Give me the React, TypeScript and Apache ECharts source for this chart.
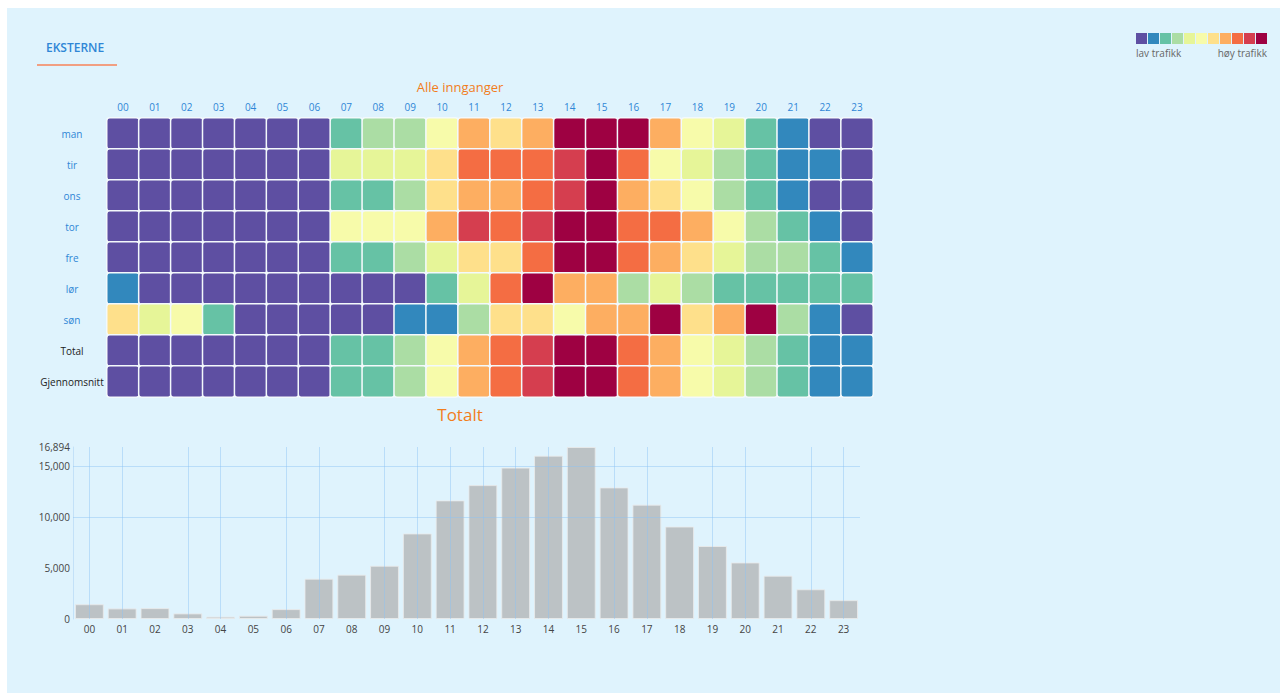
import React, { useEffect, useRef } from "react";
import * as echarts from "echarts";

const hours = ["00","01","02","03","04","05","06","07","08","09","10","11","12","13","14","15","16","17","18","19","20","21","22","23"];
const rowLabels = ["man","tir","ons","tor","fre","lør","søn","Total","Gjennomsnitt"];

// traffic level (0 = lav trafikk ... 10 = høy trafikk) per hour
const man =   [0,0,0,0,0,0,0,2,3,3,5,7,6,7,10,10,10,7,5,4,2,1,0,0];
const tir =   [0,0,0,0,0,0,0,4,4,4,6,8,8,8,9,10,8,5,4,3,2,1,1,0];
const ons =   [0,0,0,0,0,0,0,2,2,3,6,7,7,8,9,10,7,6,5,3,2,1,0,0];
const tor =   [0,0,0,0,0,0,0,5,5,5,7,9,8,9,10,10,8,8,7,5,3,2,1,0];
const fre =   [0,0,0,0,0,0,0,2,2,3,4,6,6,8,10,10,8,7,6,4,3,3,2,1];
const lor =   [1,0,0,0,0,0,0,0,0,0,2,4,8,10,7,7,3,4,3,2,2,2,2,2];
const son =   [6,4,5,2,0,0,0,0,0,1,1,3,6,6,5,7,7,10,6,7,10,3,1,0];
const total = [0,0,0,0,0,0,0,2,2,3,5,7,8,9,10,10,8,7,5,4,3,2,1,1];
const snitt = [0,0,0,0,0,0,0,2,2,3,5,7,8,9,10,10,8,7,5,4,3,2,1,1];
const rows = [man, tir, ons, tor, fre, lor, son, total, snitt];

const levelColors = ["#5e4fa2","#3288bd","#66c2a5","#abdda4","#e6f598","#f7fbaa","#fee08b","#fdae61","#f46d43","#d53e4f","#9e0142"];

const totals = [1450,1040,1070,550,230,320,970,3960,4350,5230,8400,11650,13150,14870,16040,16894,12920,11230,9080,7170,5550,4250,2920,1850];
const yTicks = [0, 5000, 10000, 15000];
const gridYValues = [10000, 15000];
const gridHours = ["00","01","03","04","06","07","09","10","11","12","13","14","16","17","19","20","22","23"];

const FONT = "'Open Sans', 'Noto Sans', sans-serif";
const BLUE = "#2f86d6";
const ORANGE = "#f27d1c";

export default function App() {
  const ref = useRef<HTMLDivElement>(null);
  useEffect(() => {
    if (!ref.current) return;
    const chart = echarts.init(ref.current, null, { renderer: "svg" });
    const heatData: number[][] = [];
    rows.forEach((r, yi) => r.forEach((v, xi) => heatData.push([xi, yi, v])));
    const maxTotal = Math.max(...totals);

    const legendGraphics: any[] = levelColors.map((c, i) => ({
      type: "rect",
      left: 1129 + i * 12,
      top: 25,
      shape: { width: 11, height: 11 },
      style: { fill: c },
    }));

    chart.setOption({
      animation: false,
      textStyle: { fontFamily: FONT },
      title: [
        { text: "Alle innganger", left: 448, top: 67, textAlign: "center", textStyle: { color: ORANGE, fontSize: 13, fontWeight: "normal", fontFamily: FONT } },
        { text: "Totalt", left: 448, top: 393, textAlign: "center", textStyle: { color: ORANGE, fontSize: 17, fontWeight: "normal", fontFamily: FONT } },
      ],
      graphic: [
        { type: "text", left: 39, top: 33, style: { text: "EKSTERNE", fill: BLUE, fontSize: 12, fontWeight: 600, fontFamily: FONT } },
        { type: "rect", left: 30, top: 56, shape: { width: 80, height: 2 }, style: { fill: "#f19f82" } },
        ...legendGraphics,
        { type: "text", left: 1129, top: 40, style: { text: "lav trafikk", fill: "#666", fontSize: 10, fontFamily: FONT } },
        { type: "text", right: 13, top: 40, style: { text: "høy trafikk", fill: "#666", fontSize: 10, fontFamily: FONT, align: "right" } },
      ],
      grid: [
        { left: 100, top: 110, width: 766, height: 279 },
        { left: 66, top: 439, width: 787, height: 172 },
      ],
      xAxis: [
        {
          gridIndex: 0, type: "category", data: hours, position: "top",
          axisLine: { show: false }, axisTick: { show: false }, splitLine: { show: false },
          axisLabel: { color: BLUE, fontSize: 10, fontWeight: 500, margin: 6, fontFamily: FONT },
        },
        {
          gridIndex: 1, type: "category", data: hours,
          axisLine: { show: false }, axisTick: { show: false }, splitLine: { show: false },
          axisLabel: { color: "#444", fontSize: 10, margin: 5, fontFamily: FONT },
        },
      ],
      yAxis: [
        {
          gridIndex: 0, type: "category", data: rowLabels, inverse: true,
          axisLine: { show: false }, axisTick: { show: false }, splitLine: { show: false },
          axisLabel: {
            fontSize: 10, margin: 35, align: "center", fontFamily: FONT,
            formatter: (v: string, i: number) => (i >= 7 ? `{k|${v}}` : `{b|${v}}`),
            rich: { b: { color: BLUE, fontSize: 10, fontWeight: 500, fontFamily: FONT }, k: { color: "#222", fontSize: 10, fontFamily: FONT } },
          },
        },
        {
          gridIndex: 1, type: "value", min: 0, max: maxTotal, interval: 5000,
          axisLine: { show: true, lineStyle: { color: "#c3e1f8" } }, axisTick: { show: false },
          splitLine: { show: false },
          axisLabel: {
            color: "#444", fontSize: 10, margin: 3, fontFamily: FONT,
            formatter: (v: number) => (yTicks.includes(v) || v === maxTotal ? v.toLocaleString("en-US") : ""),
          },
        },
      ],
      visualMap: {
        type: "piecewise", show: false, seriesIndex: 0, dimension: 2,
        pieces: levelColors.map((c, i) => ({ value: i, color: c })),
      },
      series: [
        {
          type: "heatmap", xAxisIndex: 0, yAxisIndex: 0, data: heatData,
          itemStyle: { borderColor: "#f3f9fc", borderWidth: 1.5, borderRadius: 3 },
          emphasis: { disabled: true },
        },
        {
          type: "bar", xAxisIndex: 1, yAxisIndex: 1, data: totals, barCategoryGap: "12%",
          itemStyle: { color: "rgba(172,172,172,0.7)", borderColor: "rgba(235,235,235,0.8)", borderWidth: 1 },
          markLine: {
            silent: true, symbol: "none", label: { show: false },
            lineStyle: { color: "rgba(140,195,245,0.45)", width: 1, type: "solid" },
            data: [
              ...gridHours.map((h) => ({ xAxis: h })),
              ...gridYValues.map((v) => ({ yAxis: v })),
            ],
          },
        },
      ],
    });
    return () => chart.dispose();
  }, []);
  return (
    <div style={{ position: "fixed", left: 7, top: 8, width: 1273, height: 685, background: "#dff3fd" }}>
      <div ref={ref} style={{ width: 1273, height: 685 }} />
    </div>
  );
}
